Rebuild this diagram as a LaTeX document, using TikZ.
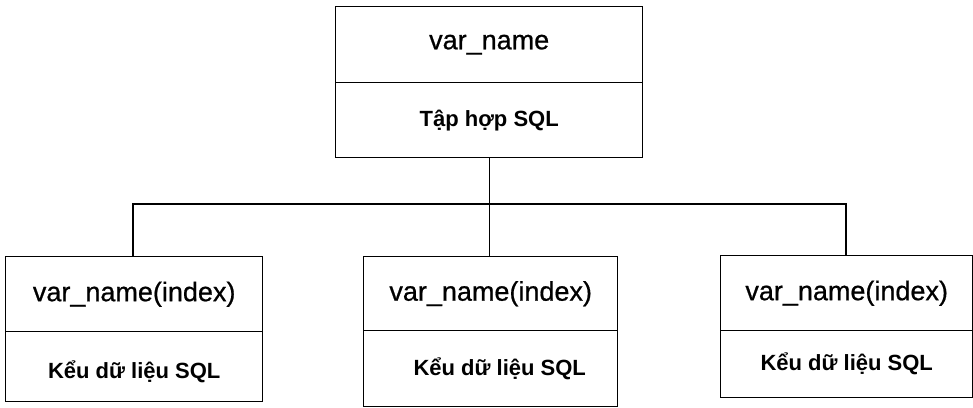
\documentclass[tikz,border=0pt]{standalone}
\usepackage{fontspec}
\setmainfont{Liberation Sans}
\newfontfamily\headfont[FakeBold=0.7]{Liberation Sans}
\begin{document}
\begin{tikzpicture}[x=1pt,y=-1pt,
  part/.style={draw, line width=1.4pt, rectangle, inner sep=0pt, anchor=north west},
  head/.style={font=\headfont\fontsize{27}{30}\selectfont},
  body/.style={font=\bfseries\fontsize{22}{25}\selectfont},
  link/.style={draw, line width=1.3pt}]
\useasboundingbox (0,0) rectangle (973,407);
% root: collection
\node[part, head, minimum width=307pt, minimum height=76pt] (rootH) at (335,6) {var\_name};
\node[part, body, minimum width=307pt, minimum height=75pt] (rootB) at (335,82) {Tập hợp SQL};
% elements
\node[part, head, minimum width=257pt, minimum height=75pt] (aH) at (5,256) {var\_name(index)};
\node[part, body, minimum width=257pt, minimum height=70pt, text depth=0pt] (aB) at (5,331) {\raisebox{-6pt}{Kểu dữ liệu SQL}};
\node[part, head, minimum width=254pt, minimum height=74pt] (bH) at (363,256) {var\_name(index)};
\node[part, body, minimum width=254pt, minimum height=76pt] (bB) at (363,330) {\hspace{18pt}Kểu dữ liệu SQL};
\node[part, head, minimum width=252pt, minimum height=75pt] (cH) at (720,255) {var\_name(index)};
\node[part, body, minimum width=252pt, minimum height=67pt] (cB) at (720,330) {Kểu dữ liệu SQL};
% tree connectors
\coordinate (barL) at (133,204);
\coordinate (barR) at (846,204);
\draw[link] (rootB.south) -- (bH.north -| rootB.south);
\draw[link] (aH.north -| barL) -- (barL) -- (barR) -- (cH.north -| barR);
\end{tikzpicture}
\end{document}
